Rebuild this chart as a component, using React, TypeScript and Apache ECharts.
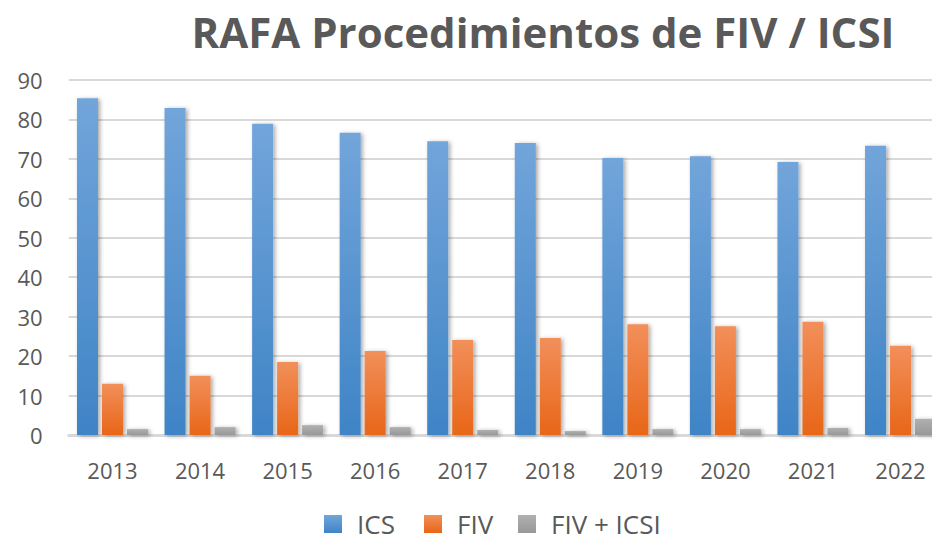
import React, { useEffect, useRef } from "react";
import * as echarts from "echarts";

const categories = ["2013", "2014", "2015", "2016", "2017", "2018", "2019", "2020", "2021", "2022"];
const icsValues = [85.4, 82.9, 78.9, 76.6, 74.5, 74.0, 70.2, 70.7, 69.2, 73.3];
const fivValues = [13.0, 15.0, 18.5, 21.3, 24.1, 24.6, 28.1, 27.6, 28.7, 22.6];
const fivIcsiValues = [1.5, 2.0, 2.5, 2.0, 1.3, 1.0, 1.5, 1.5, 1.8, 4.1];
const seriesNames = ["ICS", "FIV", "FIV + ICSI"];

const grad = (top: string, bottom: string) =>
  new echarts.graphic.LinearGradient(0, 0, 0, 1, [
    { offset: 0, color: top },
    { offset: 1, color: bottom },
  ]);

export default function App() {
  const ref = useRef<HTMLDivElement>(null);
  useEffect(() => {
    if (!ref.current) return;
    const chart = echarts.init(ref.current, undefined, { renderer: "svg" });
    const font = "'Open Sans', 'Noto Sans', sans-serif";
    const barStyle = (top: string, bottom: string) => ({
      color: grad(top, bottom),
      shadowColor: "rgba(0,0,0,0.35)",
      shadowBlur: 4,
      shadowOffsetX: 2,
      shadowOffsetY: 1,
    });
    const legendLefts = [319, 419, 513];
    chart.setOption({
      animation: false,
      backgroundColor: "#ffffff",
      title: {
        text: "RAFA Procedimientos de FIV / ICSI",
        left: 538,
        textAlign: "center",
        top: 5,
        textStyle: { fontFamily: font, fontWeight: "bold", fontSize: 42, color: "#595959" },
      },
      legend: seriesNames.map((name, i) => ({
        bottom: 0,
        left: legendLefts[i],
        itemWidth: 18,
        itemHeight: 18,
        icon: "rect",
        textStyle: { fontFamily: font, fontSize: 26, color: "#595959", padding: [0, 0, 0, 10] },
        data: [name],
      })),
      grid: {
        left: 68.7,
        top: 80,
        width: 875.6,
        height: 355,
        containLabel: false,
        outerBoundsMode: "none",
      },
      xAxis: {
        type: "category",
        data: categories,
        axisTick: { show: false },
        axisLine: { lineStyle: { color: "#d9d9d9", width: 3 } },
        axisLabel: { fontFamily: font, fontSize: 22, color: "#595959", margin: 24 },
      },
      yAxis: {
        type: "value",
        min: 0,
        max: 90,
        interval: 10,
        axisLine: { show: false },
        axisTick: { show: false },
        splitLine: { lineStyle: { color: "#d9d9d9", width: 2 } },
        axisLabel: { fontFamily: font, fontSize: 22, color: "#595959", margin: 26 },
      },
      series: [
        {
          name: seriesNames[0],
          type: "bar",
          data: icsValues,
          barWidth: 21,
          barGap: "19%",
          itemStyle: barStyle("#72a5da", "#3f84c6"),
        },
        {
          name: seriesNames[1],
          type: "bar",
          data: fivValues,
          barWidth: 21,
          barGap: "19%",
          itemStyle: barStyle("#f28f5a", "#e86618"),
        },
        {
          name: seriesNames[2],
          type: "bar",
          data: fivIcsiValues,
          barWidth: 21,
          barGap: "19%",
          itemStyle: barStyle("#b0b0b0", "#989898"),
        },
      ],
    });
    return () => chart.dispose();
  }, []);
  return <div ref={ref} style={{ width: 932, height: 542, position: "absolute", left: 0, top: 0 }} />;
}
